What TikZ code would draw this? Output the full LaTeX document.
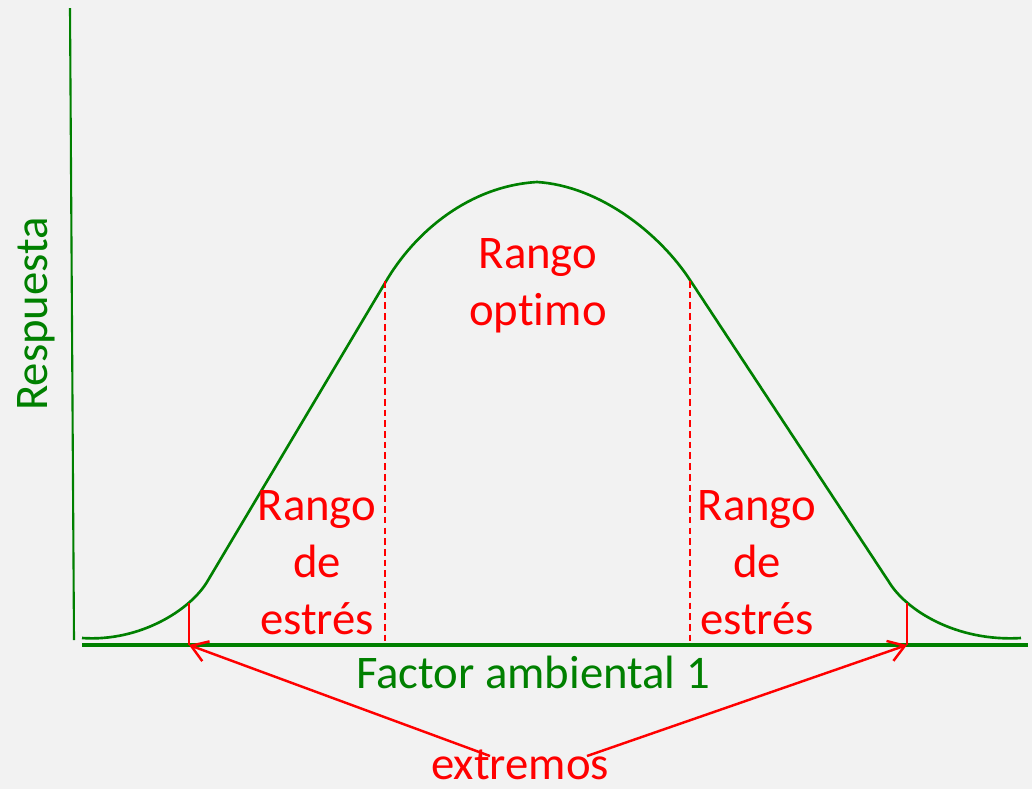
\documentclass[tikz,border=0pt]{standalone}
\usepackage{fontspec}
\setmainfont[Ligatures={NoCommon,NoRequired}]{Carlito}
\usetikzlibrary{positioning,arrows.meta}
\definecolor{respgreen}{HTML}{008000}
\definecolor{bggray}{HTML}{F2F2F2}
\tikzset{
  lbl/.style={font=\fontsize{26.6}{32.4}\selectfont,align=center,inner sep=0pt},
  axisline/.style={respgreen,line width=1.8pt},
  respcurve/.style={respgreen,line width=1.5pt,line join=round},
  limline/.style={red,line width=1.6pt},
  rangeline/.style={red,line width=1.0pt,dash pattern=on 3.8pt off 2.3pt},
  extarrow/.style={red,line width=1.4pt,-{Straight Barb[length=9pt,width=12pt]}}
}
\begin{document}
\begin{tikzpicture}[x=0.02cm,y=-0.02cm]
  \fill[bggray] (0,0) rectangle (1032,789);
  \useasboundingbox (0,0) rectangle (1032,789);
  % axes
  \coordinate (ytop) at (70,8);
  \coordinate (ybot) at (74,640);
  \coordinate (xleft) at (82,645);
  \coordinate (xright) at (1028,645);
  \draw[respgreen,line width=1.2pt] (ytop) -- (ybot);
  \draw[axisline] (xleft) -- (xright);
  % response curve
  \draw[respcurve] (82,638) .. controls (140,642) and (190,610) .. (207,582)
    -- (385,283) .. controls (415,231) and (470,186) .. (537,182)
    .. controls (600,186) and (660,234) .. (690,280)
    -- (889,582) .. controls (906,610) and (956,642) .. (1021,638);
  % limits of the ranges
  \foreach \n/\x/\ya in {lo/189/603, hi/907/603} {
    \coordinate (\n top) at (\x,\ya);
    \coordinate (\n foot) at (\x,645);
    \draw[limline] (\n top) -- (\n foot);
  }
  \foreach \n/\x in {sl/385, sr/690} {
    \coordinate (\n top) at (\x,281);
    \coordinate (\n foot) at (\x,645);
    \draw[rangeline] (\n top) -- (\n foot);
  }
  % labels
  \node[lbl,text=respgreen,rotate=90] (resp) at (36,314) {Respuesta};
  \node[lbl,text=respgreen] (factor) at (533,672) {Factor ambiental 1};
  \node[lbl,text=red] (optimo) at (538,286) {Rango\\optimo};
  \node[lbl,text=red] (estresl) at (317,563) {Rango\\de\\estrés};
  \node[lbl,text=red] (estresr) at (757,563) {Rango\\de\\estrés};
  \node[lbl,text=red] (extremos) at (520,765) {extremos};
  \coordinate (extl) at (490,756);
  \coordinate (extr) at (587,756);
  \draw[extarrow] (extl) -- (lofoot);
  \draw[extarrow] (extr) -- (hifoot);
\end{tikzpicture}
\end{document}
